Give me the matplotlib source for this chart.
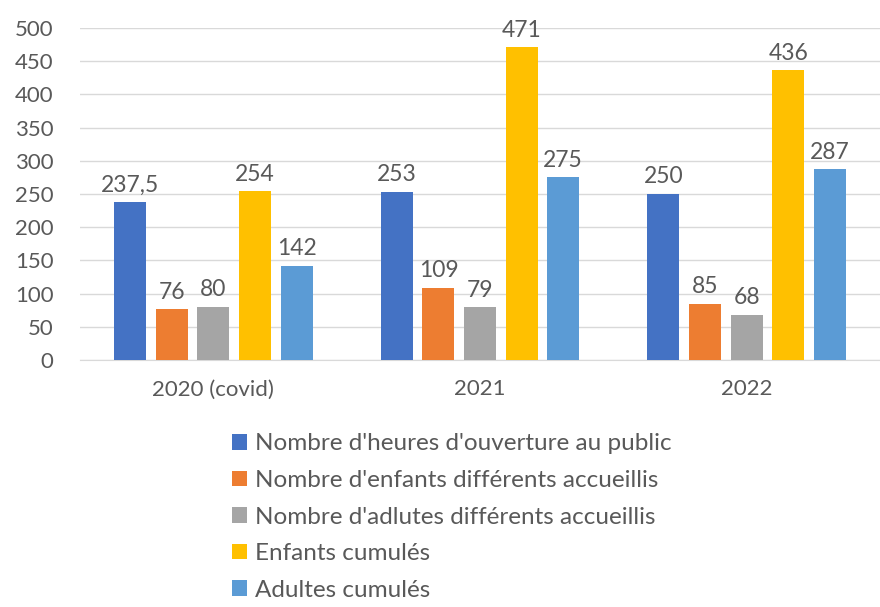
import numpy as np
import matplotlib.pyplot as plt

years = ["2020 (covid)", "2021", "2022"]
series_names = [
    "Nombre d'heures d'ouverture au public",
    "Nombre d'enfants différents accueillis",
    "Nombre d'adlutes différents accueillis",
    "Enfants cumulés",
    "Adultes cumulés",
]
heures = [237.5, 253, 250]
enfants = [76, 109, 85]
adultes = [80, 79, 68]
enfants_cumul = [254, 471, 436]
adultes_cumul = [142, 275, 287]
colors = ["#4472C4", "#ED7D31", "#A5A5A5", "#FFC000", "#5B9BD5"]

plt.rcParams['font.family'] = ['Lato', 'DejaVu Sans']
txt = "#595959"

fig = plt.figure(figsize=(8.8, 6.07), dpi=100)
ax = fig.add_axes([0.091, 0.407, 0.909, 0.547])

x = np.arange(len(years))
pitch = 0.156
width = 0.12
all_series = [heures, enfants, adultes, enfants_cumul, adultes_cumul]
handles = []
for i, vals in enumerate(all_series):
    pos = x + (i - 2) * pitch
    b = ax.bar(pos, vals, width, color=colors[i], label=series_names[i], zorder=3)
    handles.append(b)
    for p, v in zip(pos, vals):
        lab = ("%g" % v).replace(".", ",")
        ax.text(p, v + 10, lab, ha="center", va="bottom", fontsize=16.5, color=txt)

ax.set_xlim(-0.5, 2.5)
ax.set_ylim(0, 500)
ax.set_yticks(np.arange(0, 501, 50))
ax.set_xticks(x)
ax.set_xticklabels(years)
ax.yaxis.grid(True, color="#d9d9d9", linewidth=1, zorder=0)
for s in ["top", "right", "left"]:
    ax.spines[s].set_visible(False)
ax.spines["bottom"].set_color("#d9d9d9")
ax.tick_params(axis="both", length=0, colors=txt, labelsize=16)
ax.tick_params(axis="y", pad=19)
ax.tick_params(axis="x", pad=14)

fig.legend(handles=handles, loc="upper left", bbox_to_anchor=(0.239, 0.322),
           frameon=False, fontsize=17.5, labelcolor=txt, handlelength=0.6,
           handleheight=0.6, handletextpad=0.35, labelspacing=0.64)

fig.savefig("out.png", dpi=100)
